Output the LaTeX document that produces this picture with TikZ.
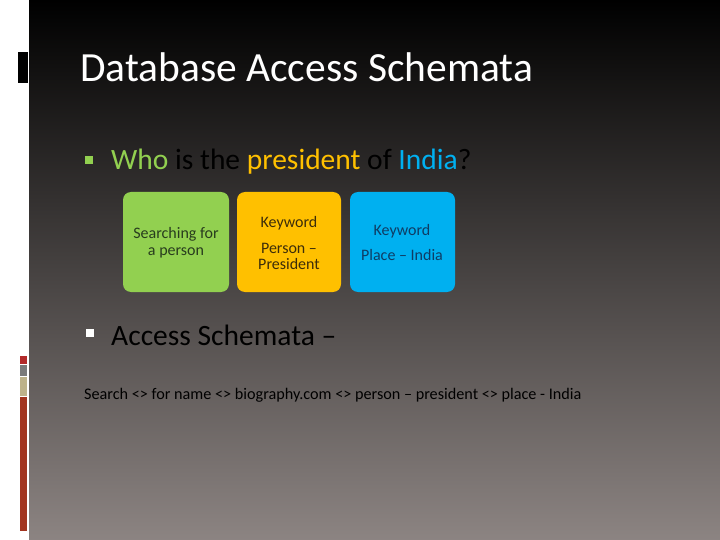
\documentclass[tikz,border=0pt]{standalone}
\usepackage{fontspec}
\setmainfont{Carlito}
\definecolor{bggray}{RGB}{140,132,130}
\definecolor{kgreen}{RGB}{146,208,80}
\definecolor{korange}{RGB}{255,192,0}
\definecolor{kblue}{RGB}{0,176,240}
\definecolor{stripred}{RGB}{178,42,42}
\definecolor{stripgray}{RGB}{122,122,122}
\definecolor{striptan}{RGB}{189,178,138}
\definecolor{stripbrown}{RGB}{162,53,32}
\begin{document}
\begin{tikzpicture}[x=1pt,y=-1pt,
  kbox/.style={rounded corners=8pt},
  boxtxt/.style={font=\fontsize{16}{18}\selectfont, anchor=base, inner sep=0pt},
  ttl/.style={font=\fontsize{41.5}{46}\selectfont, text=white, anchor=base west, inner sep=0pt},
  sub/.style={font=\fontsize{29.5}{33}\selectfont, anchor=base west, inner sep=0pt},
  foot/.style={font=\fontsize{16.2}{18}\selectfont, anchor=base west, inner sep=0pt, text=black}]
\useasboundingbox (0,0) rectangle (720,540);
\fill[white] (0,0) rectangle (720,540);
\shade[top color=black, bottom color=bggray] (29,0) rectangle (720,540);
% left decorations
\fill[black] (18,52) rectangle (28,83);
\fill[stripred] (20,356) rectangle (27,364);
\fill[stripgray] (20,365) rectangle (27,376);
\fill[striptan] (20,377) rectangle (27,396);
\fill[stripbrown] (20,397) rectangle (27,531);
% title
\node[ttl] (title) at (80,82) {Database Access Schemata};
% bullet 1
\fill[kgreen] (85,156) rectangle (93,164);
\node[sub] (q) at (111,170) {\textcolor{kgreen}{Who} \textcolor{black}{is the} \textcolor{korange}{president} \textcolor{black}{of} \textcolor{kblue}{India}\textcolor{black}{?}};
% boxes
\fill[kgreen,kbox] (123,192) rectangle (229,292);
\fill[korange,kbox] (237,192) rectangle (341,292);
\fill[kblue,kbox] (350,192) rectangle (455,292);
\node[boxtxt, text={rgb,255:red,40;green,60;blue,30}] (g1) at (176,239) {Searching for};
\node[boxtxt, text={rgb,255:red,40;green,60;blue,30}] (g2) at (176,255) {a person};
\node[boxtxt, text={rgb,255:red,60;green,45;blue,10}] (o1) at (289,227) {Keyword};
\node[boxtxt, text={rgb,255:red,60;green,45;blue,10}] (o2) at (289,253) {Person –};
\node[boxtxt, text={rgb,255:red,60;green,45;blue,10}] (o3) at (289,269) {President};
\node[boxtxt, text={rgb,255:red,15;green,60;blue,100}] (b1) at (402,236) {Keyword};
\node[boxtxt, text={rgb,255:red,15;green,60;blue,100}] (b2) at (402,260) {Place – India};
% bullet 2
\fill[white] (86,329) rectangle (94,337);
\node[sub, text=black] (a) at (111,345) {Access Schemata –};
% footer
\node[foot] (s) at (84,399) {Search <> for name <> biography.com <> person – president <> place - India};
\end{tikzpicture}
\end{document}
